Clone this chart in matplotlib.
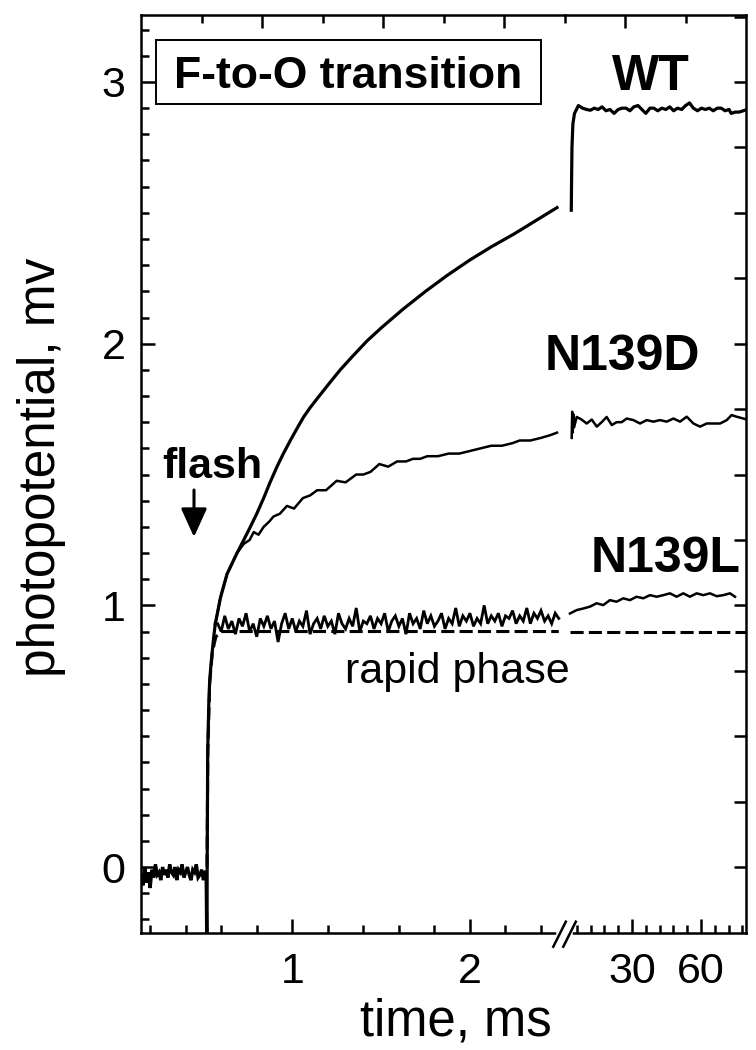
import numpy as np
import matplotlib
matplotlib.use("Agg")
import matplotlib.pyplot as plt
from matplotlib.lines import Line2D
from matplotlib.patches import Rectangle, FancyArrowPatch

plt.rcParams['font.family'] = ['Liberation Sans', 'DejaVu Sans']

# ---------------- data (time in ms, photopotential in mV) ----------------
# pre-flash baseline (shared by all traces), sampled every 0.01 ms from 0.15 ms
t_base_start, t_base_step = 0.15, 0.01
v_base = [-0.03, -0.07, 0.00, -0.06, -0.02, -0.08, -0.01, -0.04, 0.01, -0.03,
          -0.02, -0.05, 0.00, -0.03, -0.01, -0.04, 0.01, -0.02, -0.03, 0.00,
          -0.05, -0.01, -0.02, 0.01, -0.04, -0.02, 0.00, -0.03, -0.05, -0.01,
          -0.02, 0.01, -0.04, -0.03, -0.01, -0.05, -0.02]

# flash artefact + rapid rise (shared)
t_rise = [0.515, 0.520, 0.521, 0.524, 0.530, 0.535, 0.542, 0.549, 0.558, 0.567]
v_rise = [-0.02, -0.40, 0.00, 0.44, 0.62, 0.71, 0.77, 0.82, 0.88, 0.93]

# WT, fast-time segment
t_wt = [0.596, 0.633, 0.689, 0.727, 0.764, 0.80, 0.839, 0.875, 0.914, 0.95, 0.989,
        1.03, 1.064, 1.10, 1.14, 1.21, 1.27, 1.33, 1.42, 1.50, 1.62, 1.75, 1.87,
        2.00, 2.12, 2.25, 2.37, 2.49]
v_wt = [1.03, 1.12, 1.20, 1.25, 1.30, 1.35, 1.41, 1.47, 1.53, 1.58, 1.63,
        1.68, 1.72, 1.755, 1.79, 1.85, 1.90, 1.945, 2.01, 2.06, 2.13, 2.20, 2.26,
        2.32, 2.37, 2.42, 2.47, 2.52]

# N139D, fast-time segment
t_d = [0.596, 0.633, 0.689, 0.727, 0.76, 0.783, 0.81, 0.839, 0.87, 0.895, 0.93,
       0.97, 1.01, 1.06, 1.10, 1.14, 1.19, 1.25, 1.30, 1.36, 1.40, 1.44, 1.49,
       1.54, 1.59, 1.64, 1.68, 1.72, 1.76, 1.82, 1.88, 1.94, 2.00, 2.06, 2.12,
       2.18, 2.24, 2.28, 2.34, 2.40, 2.45, 2.49]
v_d = [1.03, 1.12, 1.20, 1.235, 1.25, 1.28, 1.27, 1.30, 1.32, 1.34, 1.35,
       1.38, 1.37, 1.41, 1.42, 1.44, 1.44, 1.476, 1.47, 1.50, 1.50, 1.51, 1.54,
       1.53, 1.55, 1.55, 1.56, 1.56, 1.57, 1.57, 1.58, 1.58, 1.59, 1.60, 1.61,
       1.61, 1.62, 1.63, 1.63, 1.64, 1.65, 1.66]

# N139L, fast-time segment (noisy plateau), sampled every 0.02 ms from 0.58 ms
t_l_start, t_l_step = 0.58, 0.02
v_l = [0.93, 0.90, 0.96, 0.91, 0.94, 0.89, 0.95, 0.92, 0.97, 0.90,
       0.93, 0.88, 0.95, 0.92, 0.96, 0.91, 0.94, 0.86, 0.93, 0.97,
       0.91, 0.95, 0.90, 0.94, 0.92, 0.98, 0.89, 0.93, 0.95, 0.91,
       0.96, 0.92, 0.94, 0.89, 0.97, 0.93, 0.91, 0.95, 0.92, 0.99,
       0.90, 0.94, 0.93, 0.96, 0.91, 0.95, 0.93, 0.97, 0.90, 0.94,
       0.96, 0.92, 0.95, 0.89, 0.97, 0.93, 0.95, 0.91, 0.98, 0.93,
       0.96, 0.92, 0.94, 0.97, 0.91, 0.95, 0.93, 0.99, 0.92, 0.96,
       0.94, 0.97, 0.92, 0.95, 0.93, 1.00, 0.93, 0.96, 0.94, 0.97,
       0.92, 0.96, 0.95, 0.98, 0.93, 0.96, 0.94, 0.99, 0.93, 0.97,
       0.95, 0.98, 0.94, 0.96, 0.93, 0.97, 0.95]

# rapid phase (dashed), fast-time segment
t_rp = [0.520, 0.525, 0.535, 0.550, 0.570, 0.600, 2.50]
v_rp = [0.00, 0.45, 0.70, 0.82, 0.88, 0.90, 0.90]

# slow-time segment (right panel)
t_wt2 = [3.6, 3.7, 3.9, 4.3, 5.0, 6.7, 8.5, 10.2, 11.9, 13.6, 15.3, 17.0, 18.7,
         20.4, 22.2, 24.0, 25.7, 27.4, 29.1, 30.8, 32.6, 34.3, 36.0, 37.8, 39.5,
         41.2, 43.0, 44.7, 46.4, 48.1, 49.8, 51.6, 53.3, 55.0, 56.7, 58.5, 60.2,
         61.9, 63.6, 65.3, 67.1, 68.8, 70.5, 72.2, 73.1, 74.9, 76.6, 78.4, 80.0]
v_wt2 = [2.51, 2.60, 2.75, 2.84, 2.88, 2.91, 2.90, 2.895, 2.892, 2.90, 2.895, 2.905, 2.89,
         2.895, 2.88, 2.895, 2.90, 2.90, 2.89, 2.905, 2.91, 2.895, 2.88, 2.90, 2.90,
         2.89, 2.90, 2.895, 2.905, 2.89, 2.90, 2.895, 2.91, 2.92, 2.90, 2.89, 2.90,
         2.895, 2.90, 2.89, 2.90, 2.90, 2.89, 2.895, 2.88, 2.885, 2.885, 2.89, 2.895]

t_d2 = [3.78, 4.0, 4.2, 4.5, 4.8, 5.96, 8.1, 10.3, 12.5, 14.7, 16.8, 19.0, 21.2,
        23.3, 25.5, 27.7, 30.6, 33.5, 36.4, 39.3, 42.2, 45.1, 48.0, 50.9, 53.8,
        56.7, 59.6, 62.5, 65.4, 68.3, 71.2, 73.3, 75.5, 78.4, 80.0]
v_d2 = [1.64, 1.74, 1.66, 1.73, 1.68, 1.72, 1.71, 1.695, 1.71, 1.683, 1.70, 1.72, 1.689,
        1.70, 1.70, 1.714, 1.708, 1.695, 1.708, 1.702, 1.708, 1.702, 1.714, 1.702, 1.721,
        1.695, 1.683, 1.695, 1.695, 1.695, 1.708, 1.727, 1.721, 1.714, 1.71]

t_l2 = [3.04, 5.96, 8.8, 11.7, 14.6, 17.5, 20.4, 23.3, 26.2, 29.1, 32.0, 34.9, 37.8,
        40.7, 43.6, 46.5, 49.4, 52.3, 55.2, 58.1, 61.0, 63.9, 66.8, 69.7, 72.6, 74.8]
v_l2 = [0.969, 0.982, 0.988, 0.995, 1.008, 1.001, 1.02, 1.014, 1.027, 1.02, 1.033, 1.027, 1.039,
        1.033, 1.039, 1.046, 1.033, 1.046, 1.033, 1.046, 1.039, 1.046, 1.035, 1.039, 1.046, 1.033]

t_rp2 = [3.0, 80.0]
v_rp2 = [0.90, 0.90]

x_fast_ticks = [1, 2]
x_slow_ticks = [30, 60]
y_ticks = [0, 1, 2, 3]

# ---------------- figure ----------------
W, H = 756, 1050
fig = plt.figure(figsize=(W / 100, H / 100), dpi=100)

def fx(px):
    return px / W

def fy(py):
    return 1 - py / H

ax_left_px, ax_break_px, ax_right_px = 141, 565, 746
ax_top_py, ax_bot_py = 15, 933
bottom = fy(ax_bot_py)
height = (ax_bot_py - ax_top_py) / H

axL = fig.add_axes([fx(ax_left_px), bottom, (ax_break_px - ax_left_px) / W, height])
axR = fig.add_axes([fx(ax_break_px), bottom, (ax_right_px - ax_break_px) / W, height])
axT = fig.add_axes([fx(ax_left_px), bottom, (ax_right_px - ax_left_px) / W, height])

ylim = (-0.252, 3.256)
for ax in (axL, axR):
    ax.set_ylim(*ylim)
    for s in ax.spines.values():
        s.set_linewidth(1.8)
axL.set_xlim(0.1486, 2.535)
axR.set_xlim(0.87, 79.57)

LW_WT, LW_D, LW_L = 2.3, 1.8, 2.0

t_base = t_base_start + t_base_step * np.arange(len(v_base))
t_l = t_l_start + t_l_step * np.arange(len(v_l))

axL.plot(t_base, v_base, color='black', lw=2.4, solid_joinstyle='miter')
axL.plot(t_rise, v_rise, color='black', lw=2.3)
axL.plot([t_rise[-1]] + t_wt, [v_rise[-1]] + v_wt, color='black', lw=LW_WT)
axL.plot([t_rise[-1]] + t_d, [v_rise[-1]] + v_d, color='black', lw=LW_D)
axL.plot([t_rise[-1]] + list(t_l), [v_rise[-1]] + v_l, color='black', lw=LW_L,
         solid_joinstyle='miter')
axL.plot(t_rp, v_rp, color='black', lw=2.2, dashes=(4.3, 1.7))

axR.plot(t_wt2, v_wt2, color='black', lw=LW_WT)
axR.plot(t_d2, v_d2, color='black', lw=LW_D)
axR.plot(t_l2, v_l2, color='black', lw=1.8)
axR.plot(t_rp2, v_rp2, color='black', lw=2.2, dashes=(4.3, 1.7))

axL.spines['right'].set_visible(False)
axR.spines['left'].set_visible(False)

TK = dict(direction='in', width=1.8, color='black')
axL.set_xticks(x_fast_ticks)
axL.set_xticklabels([str(v) for v in x_fast_ticks])
axL.set_xticks([0.2, 0.4, 0.6, 0.8, 1.2, 1.4, 1.6, 1.8, 2.2, 2.4], minor=True)
axL.set_yticks(y_ticks)
axL.set_yticklabels([str(v) for v in y_ticks])
axL.set_yticks([v / 10 for v in range(-2, 33) if v % 10 != 0], minor=True)
axL.tick_params(axis='both', which='major', length=10, labelsize=31, **TK)
axL.tick_params(axis='both', which='minor', length=5.5, **TK)
axL.tick_params(axis='x', which='both', top=False, bottom=True, pad=14)
axL.tick_params(axis='y', which='both', left=True, right=False, pad=11)

axR.set_xticks(x_slow_ticks)
axR.set_xticklabels([str(v) for v in x_slow_ticks])
axR.set_xticks([6, 12, 18, 24, 36, 42, 48, 54, 66, 72, 78], minor=True)
axR.set_yticks([0.25 * k for k in range(0, 14)])
axR.tick_params(axis='both', which='major', length=10, labelsize=31, **TK)
axR.tick_params(axis='x', which='minor', length=5.5, **TK)
axR.tick_params(axis='x', which='both', top=False, bottom=True, pad=14)
axR.tick_params(axis='y', which='both', left=False, right=True, labelleft=False,
                labelright=False, length=9)

axT.patch.set_visible(False)
for s in axT.spines.values():
    s.set_visible(False)
axT.set_xlim(0, 1)
axT.set_ylim(0, 1)
axT.set_xticks([0.2, 0.4, 0.6, 0.8])
axT.set_xticks([0.1, 0.3, 0.5, 0.7, 0.9], minor=True)
axT.tick_params(axis='x', which='both', top=True, bottom=False, labeltop=False,
                labelbottom=False, **TK)
axT.tick_params(axis='x', which='major', length=9.5)
axT.tick_params(axis='x', which='minor', length=5.5)
axT.set_yticks([])

# axis break marks on the bottom spine
fig.add_artist(Line2D([fx(558.5), fx(569.5)], [fy(ax_bot_py), fy(ax_bot_py)],
                      transform=fig.transFigure, color='white', lw=4, zorder=10))
for x0 in (553.3, 563.3):
    fig.add_artist(Line2D([fx(x0), fx(x0 + 12.5)], [fy(946.7), fy(921.7)],
                          transform=fig.transFigure, color='black', lw=1.8, zorder=11))

fig.text(fx(42), fy(467), 'photopotential, mv', rotation=90, ha='center', va='center',
         fontsize=37)
fig.text(fx(456), fy(1035), 'time, ms', ha='center', va='baseline', fontsize=36.5)

fig.add_artist(Rectangle((fx(156), fy(104)), (541 - 156) / W, (104 - 40) / H,
                         transform=fig.transFigure, fill=False, edgecolor='black',
                         lw=1.4, zorder=5))
fig.text(fx(348), fy(88), 'F-to-O transition', ha='center', va='baseline',
         fontsize=32, fontweight='bold')
fig.text(fx(651), fy(90), 'WT', ha='center', va='baseline', fontsize=36,
         fontweight='bold')
fig.text(fx(622), fy(370), 'N139D', ha='center', va='baseline', fontsize=36,
         fontweight='bold')
fig.text(fx(666), fy(572), 'N139L', ha='center', va='baseline', fontsize=36,
         fontweight='bold')
fig.text(fx(212), fy(478), 'flash', ha='center', va='baseline', fontsize=31,
         fontweight='bold')
fig.text(fx(345), fy(683), 'rapid phase', ha='left', va='baseline', fontsize=31)

fig.add_artist(FancyArrowPatch(
    (fx(194), fy(490)), (fx(194), fy(537)), transform=fig.transFigure,
    arrowstyle='-|>,head_length=11,head_width=5', mutation_scale=1.6,
    color='black', lw=2.2, shrinkA=0, shrinkB=0))

fig.savefig('out.png', dpi=100)
